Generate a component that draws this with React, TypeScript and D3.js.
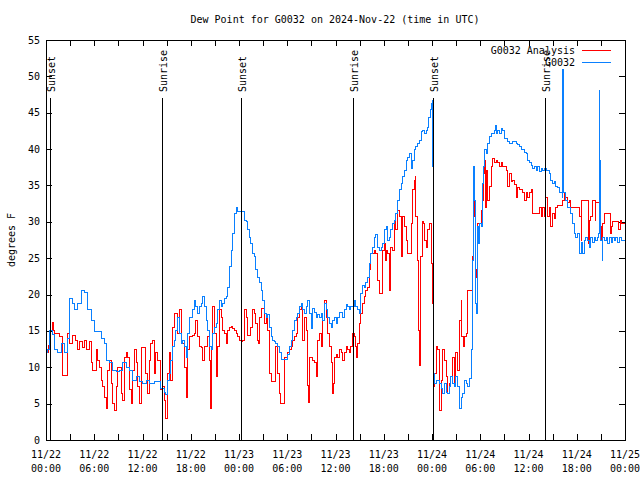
import React from "react";
import * as d3 from "d3";

const TITLE = "Dew Point for G0032 on 2024-Nov-22 (time in UTC)";
const Y_LABEL = "degrees F";
const START = Date.UTC(2024, 10, 22, 0, 0);
const HOURS = 72;
const Y_TICKS = [0, 5, 10, 15, 20, 25, 30, 35, 40, 45, 50, 55];

const seriesNames = ["G0032 Analysis", "G0032"];
const seriesColors = ["#ff0000", "#0a80ff"];

// sun events: [hour offset from 11/22 00:00 UTC, label]
const sunHours = [0.5, 14.38, 24.25, 38.21, 48.16, 62.09];
const sunLabels = ["Sunset", "Sunrise", "Sunset", "Sunrise", "Sunset", "Sunrise"];

// [hour offset, dew point F]
const analysis: [number, number][] = [
  [0, 12], [0.3, 13], [0.62, 15.1], [0.75, 16.2], [0.91, 15.1], [1.04, 14.6], [1.66, 14.2], [1.99, 10], [2.07, 8.9], [2.7, 14.7],
  [2.9, 13.3], [3.32, 14.4], [3.73, 13.75], [3.94, 12.4], [4.15, 13.5], [4.56, 12.7], [4.77, 13.75], [4.98, 12.4], [5.39, 13.5], [5.6, 10.6],
  [5.81, 9.6], [6.22, 12.4], [6.43, 11], [6.64, 10], [6.85, 8.2], [7.05, 7.3], [7.26, 5.9], [7.47, 4.4], [7.68, 9.6], [7.88, 11],
  [8.09, 7.8], [8.3, 5], [8.51, 4.1], [8.71, 7.3], [8.92, 10], [9.34, 6.4], [9.54, 5.5], [9.75, 11.4], [9.96, 12], [10.17, 11.4],
  [10.37, 6.9], [10.58, 5], [10.79, 9.6], [11.0, 12.4], [11.2, 10.6], [11.41, 7.3], [11.62, 5], [11.83, 12.7], [12.24, 12.7], [12.43, 9.2],
  [12.64, 6.4], [12.84, 11], [13.05, 13.3], [13.26, 13.75], [13.47, 9.2], [13.67, 12], [13.88, 11], [14.3, 6.9], [14.5, 7.3], [14.71, 5.5],
  [14.92, 3], [15.13, 9.2], [15.33, 12], [15.54, 8.2], [15.75, 15.5], [15.96, 17.4], [16.37, 14.7], [16.58, 17.9], [16.79, 13.75], [16.99, 13.3],
  [17.2, 10], [17.41, 5.9], [17.62, 12.4], [17.82, 14.2], [18.24, 14.4], [18.45, 14.7], [18.65, 16.5], [18.86, 14.2], [19.07, 12.8], [19.28, 12.7],
  [19.48, 11], [19.69, 12.8], [20.11, 14.2], [20.31, 11], [20.44, 4.4], [20.52, 12.8], [20.73, 18.3], [20.94, 14.7], [21.14, 10], [21.23, 8.7],
  [21.35, 12.8], [21.56, 17.9], [21.77, 16.9], [21.97, 15.1], [22.18, 14.7], [22.39, 13.3], [22.6, 15.1], [22.8, 15.5], [23.01, 15.6], [23.22, 15.4],
  [23.43, 15.1], [23.63, 14.7], [23.84, 14.2], [24.05, 13.75], [24.26, 13.5], [24.46, 13.75], [24.67, 17.9], [24.88, 16.9], [25.08, 14.4], [25.49, 15.5],
  [25.7, 17.9], [25.91, 17.4], [26.11, 16], [26.32, 13.75], [26.45, 13.3], [26.53, 16.9], [26.74, 18.1], [27.15, 16], [27.36, 16.9], [27.57, 15.1],
  [27.77, 9.2], [27.98, 8], [28.6, 12.8], [28.81, 9.2], [29.02, 6.4], [29.14, 5], [29.64, 11.4], [30.06, 12], [30.26, 12.4], [30.47, 12.8],
  [30.68, 13.75], [30.89, 14.2], [31.09, 14.7], [31.3, 16.9], [31.51, 17.9], [31.72, 18.3], [31.92, 13.75], [32.13, 16.9], [32.34, 15.1], [32.55, 7.5],
  [32.63, 5.2], [32.75, 11.4], [33.17, 11], [33.38, 10.6], [33.58, 8.7], [33.79, 13.75], [34.0, 14.7], [34.21, 12.8], [34.41, 16.5], [34.62, 19.25],
  [34.83, 16.9], [35.04, 14.7], [35.24, 12.8], [35.45, 10.6], [35.58, 6.4], [35.74, 7.8], [35.87, 11.4], [36.07, 11.7], [36.28, 11.4], [36.49, 12.4],
  [36.7, 12.1], [36.9, 11], [37.11, 12], [37.32, 12.8], [37.51, 12.4], [37.71, 12.1], [37.92, 12.8], [38.13, 14.7], [38.34, 14.2], [38.54, 12.8],
  [38.67, 11.4], [38.75, 13.3], [38.96, 16], [39.17, 17.4], [39.37, 18.8], [39.58, 19.7], [39.79, 20.6], [40.0, 21], [40.2, 23.4], [40.41, 25.7],
  [40.83, 26.1], [41.03, 25.7], [41.24, 22], [41.45, 20.2], [41.86, 26.1], [42.07, 27], [42.2, 24.75], [42.28, 26.1], [42.49, 25.7], [42.69, 20.6],
  [42.82, 22], [42.9, 26.5], [43.11, 26.1], [43.32, 30.25], [43.52, 28.9], [43.73, 31.6], [43.94, 30.7], [44.15, 25.2], [44.35, 30.7], [44.56, 29.3],
  [44.77, 27.5], [44.98, 25.7], [45.39, 29.8], [45.6, 34.4], [45.81, 35.75], [45.93, 36.2], [46.01, 30.7], [46.22, 24.75], [46.35, 15.1], [46.43, 10.3],
  [46.51, 25.2], [46.76, 30], [46.93, 29.8], [47.05, 27.5], [47.26, 26.5], [47.47, 28.9], [47.68, 29.8], [47.96, 24.3], [48.05, 18.8], [48.17, 7.3],
  [48.3, 9.2], [48.5, 12.8], [48.71, 12.4], [48.92, 4.1], [49.13, 8.2], [49.33, 12.4], [49.54, 11], [49.75, 8.7], [49.95, 6.4], [50.15, 7.8],
  [50.36, 8.7], [50.57, 11.4], [50.78, 7.8], [50.98, 12], [51.19, 9.6], [51.4, 16.5], [51.61, 19.25], [51.73, 14.2], [51.9, 12.8], [52.02, 14.2],
  [52.23, 14.7], [52.44, 20.6], [52.98, 25.2], [53.14, 33], [53.27, 30.7], [53.39, 23.4], [53.56, 22.4], [53.68, 29.8], [54.1, 31.6], [54.22, 33],
  [54.39, 36.7], [54.51, 38.5], [54.64, 32], [54.72, 37.1], [54.93, 33], [55.13, 34.8], [55.34, 37.6], [55.55, 38.75], [55.76, 38.2], [55.96, 38.5],
  [56.17, 38.1], [56.38, 37.6], [56.59, 38.1], [56.79, 37.6], [57.21, 37.1], [57.42, 34.8], [57.62, 36.7], [57.83, 35.5], [58.04, 35.75], [58.25, 35.1],
  [58.45, 33.4], [58.66, 34.7], [58.87, 34.4], [59.29, 34], [59.49, 33], [59.7, 34], [59.91, 33.4], [60.11, 34.1], [60.32, 34.4], [60.53, 31.2],
  [61.36, 32], [61.57, 30.7], [61.77, 32], [61.98, 30.7], [62.17, 33.4], [62.38, 30.7], [62.58, 32], [62.79, 29.3], [63.0, 31.2], [63.21, 30.5],
  [63.41, 32], [63.62, 32.3], [64.24, 33], [64.45, 34.1], [64.66, 33.4], [64.87, 32.6], [65.07, 33], [65.28, 32], [66.32, 30.7], [66.53, 27.5],
  [66.65, 33], [67.48, 27], [67.56, 30.25], [67.77, 30.7], [67.98, 33], [68.31, 30.25], [68.39, 32.6], [68.93, 29.3], [69.02, 27.5], [69.22, 29.8],
  [69.43, 31.2], [70.18, 28.4], [70.26, 29.3], [70.47, 30], [71.22, 28.9], [71.39, 30.25], [71.51, 29.8], [72, 30],
];

const observed: [number, number][] = [
  [0, 12], [0.21, 12.5], [0.41, 15], [0.83, 14.5], [1.04, 12.5], [1.45, 12], [1.87, 13.3], [2.28, 12], [2.7, 14], [2.9, 19.5],
  [3.32, 18.8], [3.53, 17.9], [3.94, 18.8], [4.36, 20.6], [4.77, 20.3], [5.19, 17.9], [5.6, 16.5], [6.02, 14.9], [6.43, 14.9], [6.85, 14],
  [7.26, 13.3], [7.47, 11], [7.88, 10.6], [8.3, 9.6], [8.71, 9.4], [9.13, 9.6], [9.54, 10.6], [9.96, 10], [10.37, 9.6], [10.79, 8.2],
  [11.2, 8.7], [11.62, 8], [12.03, 7.8], [12.45, 8.2], [12.84, 7.8], [13.47, 8], [13.88, 8], [14.3, 7.1], [14.71, 6.6], [14.92, 6.2],
  [15.13, 8.2], [15.33, 9.2], [15.54, 11], [15.75, 12.8], [15.96, 13.75], [16.16, 15.1], [16.37, 16.8], [16.58, 14.7], [16.79, 13.3], [16.99, 13.75],
  [17.2, 12.8], [17.41, 11.4], [17.62, 14.7], [17.82, 16.9], [18.24, 17.9], [18.45, 19.25], [18.65, 18.3], [18.86, 17.4], [19.07, 18.3], [19.28, 18.8],
  [19.48, 19.7], [19.69, 18.3], [19.9, 16.5], [20.11, 15.1], [20.31, 12.8], [20.52, 12.4], [20.73, 14.7], [20.94, 15.5], [21.14, 16], [21.35, 17.9],
  [21.56, 19.25], [21.77, 18.3], [21.97, 18.8], [22.18, 19.5], [22.39, 19.7], [22.6, 21], [22.8, 23.8], [23.01, 26.1], [23.22, 28.4], [23.43, 31.2],
  [23.63, 32], [23.84, 31.4], [24.26, 31.4], [24.67, 30.25], [24.88, 30], [25.08, 28.9], [25.28, 27.9], [25.49, 27], [25.7, 25.7], [25.91, 25.2],
  [26.11, 23.4], [26.32, 22.4], [26.53, 21.7], [26.74, 20.6], [26.94, 19.25], [27.15, 17.4], [27.36, 16.9], [27.57, 17.2], [27.77, 15.5], [27.98, 14.2],
  [28.19, 13.75], [28.4, 13.5], [28.6, 13.3], [28.81, 12.8], [29.02, 12], [29.23, 11.1], [30.06, 11.7], [30.26, 12.8], [30.47, 13.75], [30.68, 15.1],
  [30.89, 16.5], [31.09, 16.9], [31.3, 17.4], [31.51, 18.3], [31.72, 18.8], [31.92, 17.9], [32.13, 17.4], [32.34, 18.3], [32.55, 19.25], [32.75, 17.4],
  [32.96, 15.4], [33.17, 18.1], [33.38, 17.6], [33.58, 16.9], [33.79, 17.2], [34.0, 16.9], [34.21, 17.4], [34.41, 16.5], [34.62, 18.8], [34.83, 17.9],
  [35.04, 16.9], [35.24, 16], [35.45, 15.5], [35.66, 16.5], [35.87, 16.9], [36.07, 16], [36.28, 16.8], [36.49, 17.6], [36.9, 16.8], [37.11, 17.9],
  [37.32, 18.6], [37.51, 18.3], [37.71, 17.9], [37.92, 18.3], [38.34, 19.25], [38.54, 18.3], [38.75, 17.9], [38.96, 17.4], [39.17, 20.2], [39.37, 21.3],
  [39.58, 21], [39.79, 21.6], [40.0, 22.4], [40.2, 24.3], [40.41, 25.7], [40.62, 26.5], [40.83, 27.9], [41.03, 28.2], [41.24, 26.5], [41.45, 26.1],
  [41.66, 26.5], [41.86, 27], [42.07, 28.9], [42.28, 29.3], [42.49, 27.5], [42.69, 27.9], [42.9, 28.9], [43.11, 29.8], [43.32, 30.25], [43.52, 31.2],
  [43.73, 33], [43.94, 34.4], [44.15, 35.3], [44.35, 36.2], [44.56, 37.1], [44.77, 38.5], [44.98, 38.9], [45.18, 39.4], [45.39, 37.4], [45.6, 38.5],
  [45.81, 39.9], [46.01, 40.3], [46.22, 40.8], [46.43, 41.25], [46.64, 42.4], [46.84, 42.6], [47.05, 42.2], [47.26, 42.6], [47.47, 43], [47.59, 44.4],
  [47.76, 45.4], [47.88, 46.3], [48.01, 46.75], [48.09, 37.6], [48.13, 9.2], [48.3, 7.8], [48.5, 8.2], [48.92, 7.8], [49.13, 7.1], [49.33, 6.4],
  [49.54, 7.8], [49.75, 6.6], [49.95, 6.4], [50.15, 7.3], [50.36, 8.7], [50.57, 7.8], [50.78, 7.3], [50.98, 8.7], [51.19, 7.3], [51.4, 4.4],
  [51.61, 5.9], [51.81, 6.4], [52.02, 8.2], [52.23, 7.8], [52.44, 7.3], [52.64, 8.5], [52.85, 12.4], [52.98, 24.75], [53.14, 37.6], [53.27, 33],
  [53.39, 18.8], [53.56, 17.4], [53.68, 29.3], [53.81, 27], [53.89, 29.8], [54.1, 29.3], [54.22, 35.3], [54.39, 37.6], [54.51, 39.9], [54.72, 39.4],
  [54.93, 40.8], [55.13, 41.7], [55.34, 42.2], [55.76, 42.6], [55.88, 43.3], [55.96, 42.2], [56.17, 42.6], [56.38, 42.2], [56.59, 42.9], [56.79, 42.6],
  [57.0, 41.5], [57.42, 41], [57.62, 40.8], [58.04, 41], [58.45, 40.8], [58.66, 40.6], [58.87, 40.3], [59.08, 39.9], [59.49, 39.6], [59.7, 39.4],
  [59.91, 38.5], [60.11, 38.1], [60.32, 37.8], [60.53, 37.4], [60.74, 37.6], [60.94, 37.1], [61.15, 37.6], [61.36, 36.9], [61.57, 37.4], [61.77, 37.1],
  [61.98, 37.4], [62.19, 37.1], [62.58, 36.7], [62.79, 35.75], [63.0, 35.3], [63.21, 35.5], [63.41, 34.8], [63.62, 34.7], [63.83, 34.1], [64.04, 34],
  [64.24, 33.4], [64.28, 50.9], [64.33, 42.6], [64.37, 34], [64.66, 33], [64.87, 32], [65.28, 31.2], [65.49, 29.8], [65.7, 28.4], [65.9, 27.9],
  [66.11, 28.4], [66.32, 25.7], [66.53, 27.2], [66.73, 25.7], [66.94, 27.5], [67.15, 27.9], [67.36, 27.5], [67.56, 26.5], [67.77, 27.9], [67.98, 27.2],
  [68.19, 27.9], [68.39, 27.5], [68.6, 27.9], [68.73, 28.4], [68.77, 48.1], [68.81, 38.5], [68.93, 27.5], [69.14, 24.75], [69.22, 27.9], [69.43, 27.5],
  [69.64, 27.9], [69.85, 27], [70.05, 27.9], [70.26, 27.2], [70.47, 27.9], [70.68, 27.5], [70.88, 27.9], [71.09, 27.2], [71.3, 27.9], [71.51, 27.5],
  [72, 27.9],
];

const FONT = "'DejaVu Sans Mono', 'Liberation Mono', monospace";

const toDate = (h: number) => new Date(START + h * 3600 * 1000);

export default function App() {
  const W = 640, H = 480;
  const left = 46, right = 625, top = 40, bottom = 440;
  const x = d3.scaleUtc().domain([toDate(0), toDate(HOURS)]).range([left, right]);
  const y = d3.scaleLinear().domain([0, 55]).range([bottom, top]);
  const line = d3
    .line<[number, number]>()
    .x((d) => x(toDate(d[0])))
    .y((d) => y(d[1]))
    .curve(d3.curveStepAfter);

  const minorTicks = x.ticks(d3.utcHour.every(3)!);
  const majorTicks = x.ticks(d3.utcHour.every(6)!);
  const fmtDay = d3.utcFormat("%m/%d");
  const fmtTime = d3.utcFormat("%H:%M");
  const tickLen = 6;
  const sunTop = y(55 * 0.855);

  return (
    <svg
      width={W}
      height={H}
      style={{ position: "absolute", left: 0, top: 0, background: "#fff" }}
      fontFamily={FONT}
      fontSize={10}
    >
      <rect x={0} y={0} width={W} height={H} fill="#fff" />
      <defs>
        <clipPath id="plot">
          <rect x={left} y={top} width={right - left} height={bottom - top} />
        </clipPath>
      </defs>
      <text x={335} y={23} textAnchor="middle" fill="#000">
        {TITLE}
      </text>
      <text
        transform={`translate(15,${(top + bottom) / 2}) rotate(-90)`}
        textAnchor="middle"
        fill="#000"
      >
        {Y_LABEL}
      </text>

      <g shapeRendering="crispEdges" stroke="#000" strokeWidth={1}>
        {Y_TICKS.map((v) => (
          <g key={v}>
            <line x1={left} x2={left + tickLen} y1={Math.round(y(v)) + 0.5} y2={Math.round(y(v)) + 0.5} />
            <line x1={right - tickLen} x2={right} y1={Math.round(y(v)) + 0.5} y2={Math.round(y(v)) + 0.5} />
          </g>
        ))}
        {minorTicks.map((t, i) => (
          <g key={i}>
            <line x1={Math.round(x(t)) + 0.5} x2={Math.round(x(t)) + 0.5} y1={bottom} y2={bottom - tickLen} />
            <line x1={Math.round(x(t)) + 0.5} x2={Math.round(x(t)) + 0.5} y1={top} y2={top + tickLen} />
          </g>
        ))}
      </g>
      {Y_TICKS.map((v) => (
        <text key={v} x={40} y={y(v) + 3.5} textAnchor="end" fill="#000">
          {v}
        </text>
      ))}
      {majorTicks.map((t, i) => (
        <g key={i}>
          <text x={x(t)} y={458} textAnchor="middle" fill="#000">
            {fmtDay(t)}
          </text>
          <text x={x(t)} y={472} textAnchor="middle" fill="#000">
            {fmtTime(t)}
          </text>
        </g>
      ))}

      <g clipPath="url(#plot)" fill="none" strokeWidth={1} shapeRendering="crispEdges">
        <path d={line(analysis) || ""} stroke={seriesColors[0]} />
        <path d={line(observed) || ""} stroke={seriesColors[1]} />
      </g>

      <g shapeRendering="crispEdges" stroke="#000">
        {sunHours.map((h, i) => (
          <line
            key={i}
            x1={Math.round(x(toDate(h))) + 0.5}
            x2={Math.round(x(toDate(h))) + 0.5}
            y1={bottom}
            y2={sunTop}
          />
        ))}
      </g>
      {sunHours.map((h, i) => (
        <text
          key={i}
          transform={`translate(${Math.round(x(toDate(h))) + 1},${sunTop - 6}) rotate(-90)`}
          textAnchor="start"
          dominantBaseline="central"
          fill="#000"
        >
          {sunLabels[i]}
        </text>
      ))}

      <rect
        x={left + 0.5}
        y={top + 0.5}
        width={right - left}
        height={bottom - top}
        fill="none"
        stroke="#000"
        shapeRendering="crispEdges"
      />

      {seriesNames.map((n, i) => (
        <g key={n}>
          <text x={575} y={50 + i * 12 + 3.5} textAnchor="end" fill="#000">
            {n}
          </text>
          <line
            x1={582}
            x2={611}
            y1={50 + i * 12 + 0.5}
            y2={50 + i * 12 + 0.5}
            stroke={seriesColors[i]}
            shapeRendering="crispEdges"
          />
        </g>
      ))}
    </svg>
  );
}
